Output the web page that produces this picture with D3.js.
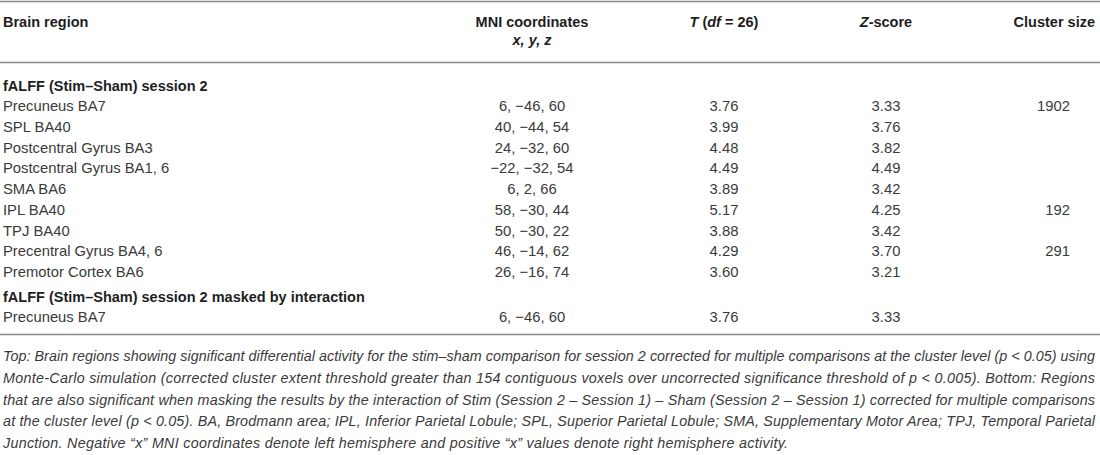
<!DOCTYPE html>
<html><head><meta charset="utf-8">
<script src="https://cdn.jsdelivr.net/npm/d3@7"></script>
<style>
body{margin:0;background:#fff;}
svg text{font-family:"Liberation Sans",Arial,sans-serif;}
</style></head>
<body><svg id="c" width="1100" height="455"></svg>
<script>
const columns = ["Brain region","MNI coordinates","T (df = 26)","Z-score","Cluster size"];
const section1 = "fALFF (Stim\u2013Sham) session 2";
const section2 = "fALFF (Stim\u2013Sham) session 2 masked by interaction";
const regions1 = ["Precuneus BA7","SPL BA40","Postcentral Gyrus BA3","Postcentral Gyrus BA1, 6","SMA BA6","IPL BA40","TPJ BA40","Precentral Gyrus BA4, 6","Premotor Cortex BA6"];
const coords1 = ["6, \u221246, 60","40, \u221244, 54","24, \u221232, 60","\u221222, \u221232, 54","6, 2, 66","58, \u221230, 44","50, \u221230, 22","46, \u221214, 62","26, \u221216, 74"];
const tvals1 = [3.76,3.99,4.48,4.49,3.89,5.17,3.88,4.29,3.60];
const zvals1 = [3.33,3.76,3.82,4.49,3.42,4.25,3.42,3.70,3.21];
const cluster1 = [1902,null,null,null,null,192,null,291,null];
const regions2 = ["Precuneus BA7"];
const coords2 = ["6, \u221246, 60"];
const tvals2 = [3.76];
const zvals2 = [3.33];
const cluster2 = [null];
const footnote = [
 "Top: Brain regions showing significant differential activity for the stim\u2013sham comparison for session 2 corrected for multiple comparisons at the cluster level (p < 0.05) using",
 "Monte-Carlo simulation (corrected cluster extent threshold greater than 154 contiguous voxels over uncorrected significance threshold of p < 0.005). Bottom: Regions",
 "that are also significant when masking the results by the interaction of Stim (Session 2 \u2013 Session 1) \u2013 Sham (Session 2 \u2013 Session 1) corrected for multiple comparisons",
 "at the cluster level (p < 0.05). BA, Brodmann area; IPL, Inferior Parietal Lobule; SPL, Superior Parietal Lobule; SMA, Supplementary Motor Area; TPJ, Temporal Parietal",
 "Junction. Negative \u201cx\u201d MNI coordinates denote left hemisphere and positive \u201cx\u201d values denote right hemisphere activity."
];

const rows = [];
rows.push({type:"sec", label:section1});
regions1.forEach((r,i)=>rows.push({type:"row",region:r,coord:coords1[i],t:tvals1[i],z:zvals1[i],c:cluster1[i]}));
rows.push({type:"sec", label:section2});
regions2.forEach((r,i)=>rows.push({type:"row",region:r,coord:coords2[i],t:tvals2[i],z:zvals2[i],c:cluster2[i]}));

const svg = d3.select("#c");
const W = 1100;
const fs = 14.8;
const hfs = 14.5;
const textCol = "#3a3a3a";
const boldCol = "#1e1e1e";

const colX = d3.scaleOrdinal().domain(columns).range([3, 532, 724, 886, 1070]);

const rowCenters = [];
{
  let yy = 86;
  rows.forEach((r,i)=>{
    if(i>0){ yy += (r.type==="sec") ? 25 : (rows[i-1].type==="sec" ? 20 : 20.75); }
    rowCenters.push(yy);
  });
}

const lineCol = "#8a8a8a";
[1.5, 62.5, 334.5].forEach(d=>{
  svg.append("line").attr("x1",0).attr("x2",W).attr("y1",d).attr("y2",d)
    .attr("stroke",lineCol).attr("stroke-width",1.4);
});

// headers
const hg = svg.append("g").attr("font-weight","bold").attr("font-size",hfs).attr("fill",boldCol);
const hy = 22+5.2;
hg.append("text").attr("x",colX("Brain region")).attr("y",hy).text("Brain region");
hg.append("text").attr("x",colX("MNI coordinates")).attr("y",hy).attr("text-anchor","middle").text("MNI coordinates");
hg.append("text").attr("x",colX("MNI coordinates")).attr("y",40+5.2).attr("text-anchor","middle").attr("font-style","italic").text("x, y, z");
const th = hg.append("text").attr("x",colX("T (df = 26)")).attr("y",hy).attr("text-anchor","middle");
th.append("tspan").attr("font-style","italic").text("T");
th.append("tspan").text(" (");
th.append("tspan").attr("font-style","italic").text("df");
th.append("tspan").text(" = 26)");
const zh = hg.append("text").attr("x",colX("Z-score")).attr("y",hy).attr("text-anchor","middle");
zh.append("tspan").attr("font-style","italic").text("Z");
zh.append("tspan").text("-score");
hg.append("text").attr("x",1095).attr("y",hy).attr("text-anchor","end").text("Cluster size");

// body
const bg = svg.append("g").attr("font-size",fs);
rows.forEach((r,i)=>{
  const cy = rowCenters[i] + 5.2;
  if(r.type==="sec"){
    bg.append("text").attr("x",3).attr("y",cy).attr("font-weight","bold").attr("font-size",hfs).attr("fill",boldCol).text(r.label);
  } else {
    bg.append("text").attr("x",colX("Brain region")).attr("y",cy).attr("fill",textCol).text(r.region);
    bg.append("text").attr("x",colX("MNI coordinates")).attr("y",cy).attr("text-anchor","middle").attr("fill",textCol).text(r.coord);
    bg.append("text").attr("x",colX("T (df = 26)")).attr("y",cy).attr("text-anchor","middle").attr("fill",textCol).text(d3.format(".2f")(r.t));
    bg.append("text").attr("x",colX("Z-score")).attr("y",cy).attr("text-anchor","middle").attr("fill",textCol).text(d3.format(".2f")(r.z));
    if(r.c!=null) bg.append("text").attr("x",colX("Cluster size")).attr("y",cy).attr("text-anchor","end").attr("fill",textCol).text(r.c);
  }
});

// footnote (justified lines), font size fit so the first line nearly fills the width
const fg = svg.append("g").attr("font-style","italic").attr("fill",textCol);
const probe = fg.append("text").attr("font-size",13.5).text(footnote[0]);
const natural = probe.node().getComputedTextLength();
probe.remove();
const ffs = Math.min(15, 13.5 * 1085 / natural);
fg.attr("font-size", ffs);
const fy = d3.scaleLinear().domain([0,4]).range([356,443]);
footnote.forEach((line,i)=>{
  const t = fg.append("text").attr("x",3).attr("y",fy(i)+5).text(line);
  t.attr("textLength", i<footnote.length-1 ? 1092 : 785).attr("lengthAdjust","spacing");
});
</script></body></html>
